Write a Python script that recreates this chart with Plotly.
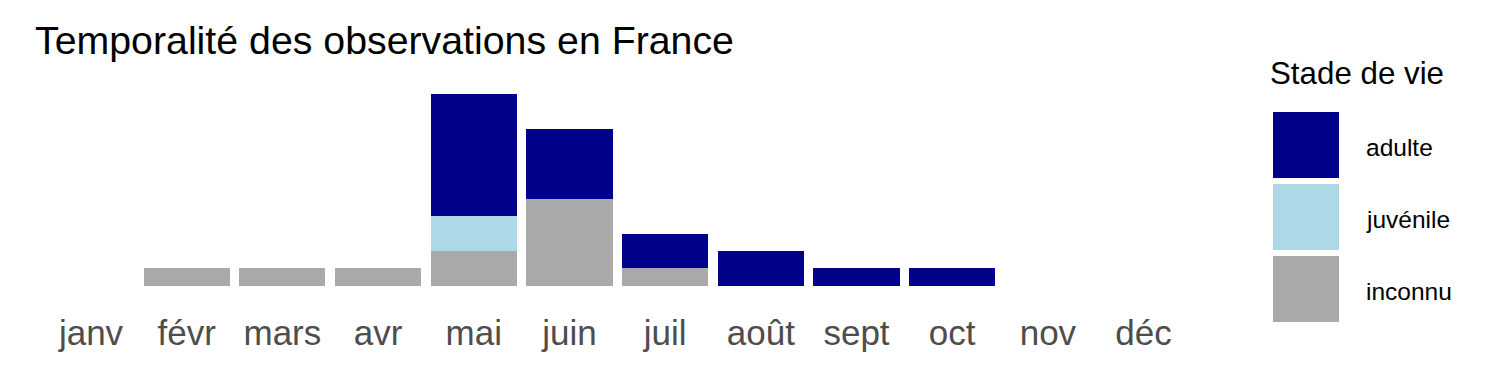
import plotly.graph_objects as go

months = ["janv", "févr", "mars", "avr", "mai", "juin", "juil", "août", "sept", "oct", "nov", "déc"]
adulte = [0, 0, 0, 0, 7, 4, 2, 2, 1, 1, 0, 0]
juvenile = [0, 0, 0, 0, 2, 0, 0, 0, 0, 0, 0, 0]
inconnu = [0, 1, 1, 1, 2, 5, 1, 0, 0, 0, 0, 0]

stades = ["adulte", "juvénile", "inconnu"]
colors = {"adulte": "#00008B", "juvénile": "#ADD8E6", "inconnu": "#A9A9A9"}
series = {"adulte": adulte, "juvénile": juvenile, "inconnu": inconnu}

W, H = 1500, 375
FONT = "Liberation Sans, Arial, sans-serif"

fig = go.Figure()
for name in ["inconnu", "juvénile", "adulte"]:
    fig.add_trace(go.Bar(x=months, y=series[name], name=name,
                         marker=dict(color=colors[name], line=dict(width=0)),
                         showlegend=False))

def px_x(v):
    return v / W

def px_y(v):
    return 1 - v / H

fig.update_layout(
    width=W, height=H, autosize=False,
    margin=dict(l=0, r=0, t=0, b=0),
    paper_bgcolor="white", plot_bgcolor="white",
    barmode="stack", bargap=0.1,
    font=dict(family=FONT),
    xaxis=dict(domain=[px_x(33.6), px_x(1201)], range=[-0.6, 11.6],
               type="category", showgrid=False, zeroline=False, showline=False,
               ticks="", tickfont=dict(size=35, color="#4D4D4D", family=FONT),
               ticklabelstandoff=13),
    yaxis=dict(domain=[px_y(295.6), px_y(84)], range=[-0.55, 11.55],
               showgrid=False, zeroline=False, showline=False,
               showticklabels=False, ticks=""),
)

fig.add_annotation(text="Temporalité des observations en France", xref="paper", yref="paper",
                   x=px_x(33), y=px_y(40), xanchor="left", yanchor="middle",
                   showarrow=False, font=dict(size=39.3, color="black", family=FONT))

fig.add_annotation(text="Stade de vie", xref="paper", yref="paper",
                   x=px_x(1268), y=px_y(73), xanchor="left", yanchor="middle",
                   showarrow=False, font=dict(size=31.3, color="black", family=FONT))

key_tops = [112, 184, 256]
for name, top in zip(stades, key_tops):
    fig.add_shape(type="rect", xref="paper", yref="paper",
                  x0=px_x(1273), x1=px_x(1339), y0=px_y(top + 66), y1=px_y(top),
                  fillcolor=colors[name], line=dict(width=0))
    fig.add_annotation(text=name, xref="paper", yref="paper",
                       x=px_x(1364), y=px_y(top + 35), xanchor="left", yanchor="middle",
                       showarrow=False, font=dict(size=24.5, color="black", family=FONT))

fig.write_html("out.html")
